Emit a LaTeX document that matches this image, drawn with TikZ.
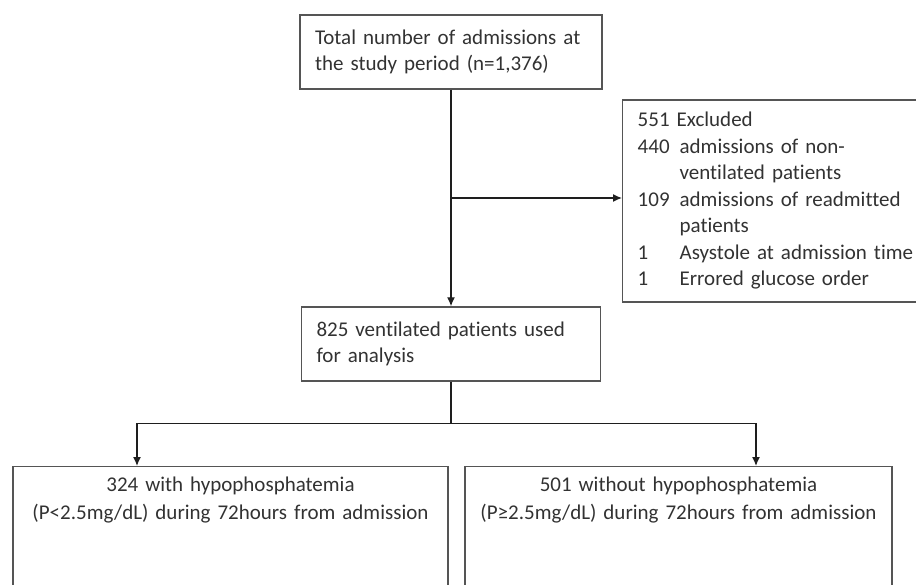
\documentclass[tikz,border=0pt]{standalone}
\usepackage{fontspec}
\setmainfont{Carlito}[Ligatures={NoCommon}]
\usepackage{xcolor}
\usepackage{tikz}
\usetikzlibrary{arrows.meta, positioning, calc}
\definecolor{boxgray}{RGB}{85, 85, 85}
\definecolor{linkgray}{RGB}{30, 30, 30}
\definecolor{inkgray}{RGB}{50, 50, 50}

\begin{document}
\begin{tikzpicture}[x=1pt, y=-1pt,
    flowbox/.style={draw=boxgray, line width=1.4pt, text=inkgray, inner xsep=15pt,
                    font=\fontsize{21}{26.5}\selectfont},
    link/.style={draw=linkgray, line width=1.4pt},
    arrow/.style={link, -{Latex[length=9pt, width=8pt]}}]
    \useasboundingbox (0,0) rectangle (916,585);
    \clip (0,0) rectangle (916,585);

    \node[flowbox, minimum height=74pt, text width=272pt, align=left]
        (total) at (451,52) {Total number of admissions at\\the study period (n=1,376)};
    \node[flowbox, minimum height=74pt, text width=269pt, align=left]
        (analysis) at (451,344) {825 ventilated patients used\\for analysis};
    \node[flowbox, anchor=west, minimum height=202pt, text width=290pt, align=left]
        (excluded) at (622,201) {%
        \begin{tabular}{@{}l@{\hspace{10pt}}l@{}}
            \multicolumn{2}{@{}l@{}}{551 Excluded}\\
            440 & admissions of non-\\
                & ventilated patients\\
            109 & admissions of readmitted\\
                & patients\\
            1   & Asystole at admission time\\
            1   & Errored glucose order
        \end{tabular}};
    \node[flowbox, anchor=north, text width=405pt, align=center, inner ysep=10pt, text depth=130pt,
          font=\fontsize{21}{28}\selectfont]
        (hypo) at (230.5,466) {324 with hypophosphatemia\\(P<2.5mg/dL) during 72hours from admission};
    \node[flowbox, anchor=north, text width=397pt, align=center, inner ysep=10pt, text depth=130pt,
          font=\fontsize{21}{28}\selectfont]
        (nohypo) at (678.5,466) {501 without hypophosphatemia\\(P≥2.5mg/dL) during 72hours from admission};

    % connectors
    \draw[arrow] (total) -- (analysis);
    \coordinate (branch) at ($(total.south)!0.5!(analysis.north)$);
    \draw[arrow] (branch) -- (branch -| excluded.west);
    \coordinate (split) at ($(analysis.south)+(0,42)$);
    \draw[link] (analysis) -- (split);
    \draw[arrow] (split) -| ([xshift=-93.5pt]hypo.north);
    \draw[arrow] (split) -| ([xshift=77.5pt]nohypo.north);
\end{tikzpicture}
\end{document}
